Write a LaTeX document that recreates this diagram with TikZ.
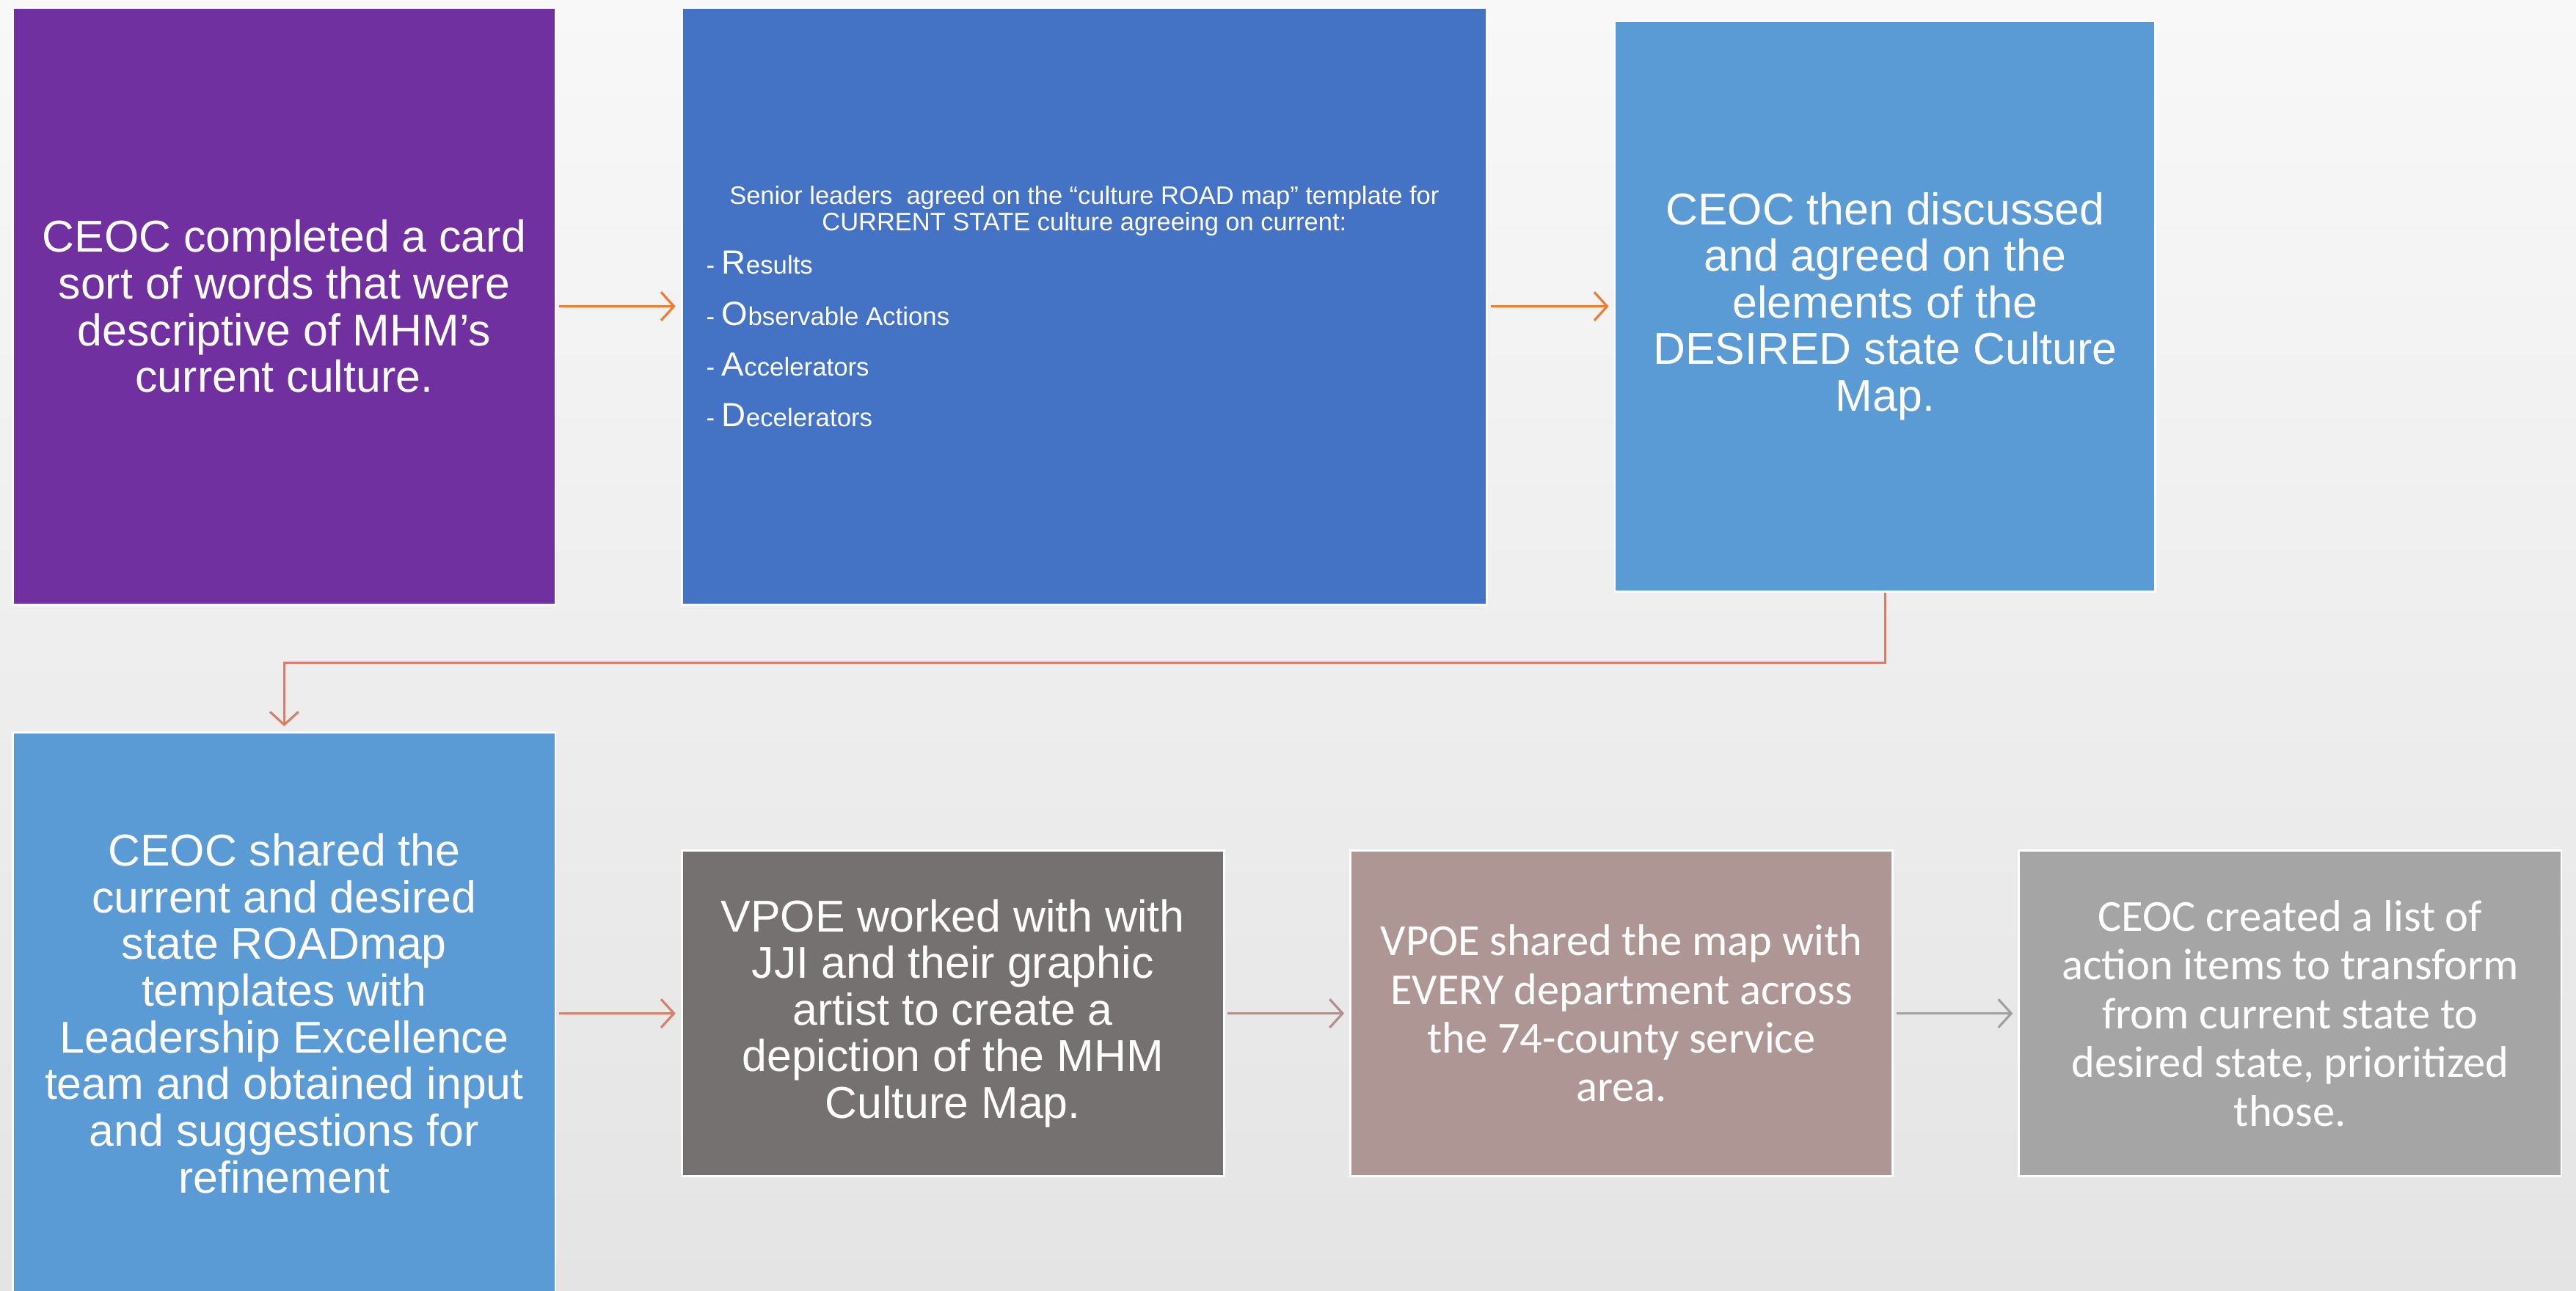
\documentclass[tikz,border=0pt]{standalone}
\usepackage{fontspec}
\setmainfont{Liberation Sans}
\newfontfamily\calfont{Carlito}
\usetikzlibrary{arrows.meta, positioning}
\definecolor{ceocpurple}{RGB}{112,48,160}
\definecolor{roadblue}{RGB}{68,114,196}
\definecolor{skyblue}{RGB}{91,155,213}
\definecolor{slategray}{RGB}{118,113,113}
\definecolor{rosegray}{RGB}{174,150,148}
\definecolor{stonegray}{RGB}{165,165,165}
\definecolor{arroworange}{RGB}{237,125,49}
\definecolor{arrowsalmon}{RGB}{214,128,106}
\definecolor{arrowrose}{RGB}{178,142,142}
\definecolor{arrowgray}{RGB}{160,160,160}
\definecolor{bgtop}{RGB}{248,248,248}
\definecolor{bgbottom}{RGB}{228,228,228}
\tikzset{
  stagebox/.style={draw=white, line width=0.8pt, text=white, inner sep=0pt, align=center, minimum width=7.389cm},
  bigtext/.style={font=\fontsize{17.3}{18.1}\selectfont},
  caltext/.style={font=\calfont\fontsize{17.2}{18.9}\selectfont},
  flow/.style={line width=0.9pt, shorten <=1pt, shorten >=2pt, -{Straight Barb[length=5pt,width=11pt]}},
}
\newcommand{\roadhead}{\fontsize{9.8}{10.4}\selectfont\lineskiplimit=-20pt}
\newcommand{\roaditem}[2]{\fontsize{9.9}{19.7}\selectfont - {\fontsize{13}{19.7}\selectfont #1}#2\par}

\begin{document}
\begin{tikzpicture}[x=0.02239cm, y=-0.02239cm]
  \useasboundingbox (0,0) rectangle (1568,786);
  \shade[top color=bgtop, bottom color=bgbottom] (0,0) rectangle (1568,786);

  % top row
  \node[stagebox, fill=ceocpurple, bigtext, minimum height=8.128cm] (sort) at (173,186.5)
    {CEOC completed a card\\sort of words that were\\descriptive of MHM’s\\current culture.};
  \node[stagebox, fill=roadblue, minimum width=10.971cm, minimum height=8.128cm, text width=10.3cm, align=none] (road) at (660,186.5) {%
    {\centering\roadhead Senior leaders\ \ agreed on the “culture ROAD map” template for\\CURRENT STATE culture agreeing on current:\par}
    \vspace{-2.9pt}\raggedright
    \roaditem{R}{esults}
    \roaditem{O}{bservable Actions}
    \roaditem{A}{ccelerators}
    \roaditem{D}{ecelerators}};
  \node[stagebox, fill=skyblue, bigtext, minimum width=7.366cm, minimum height=7.769cm] (desired) at (1147.5,186.5)
    {CEOC then discussed\\and agreed on the\\elements of the\\DESIRED state Culture\\Map.};

  % bottom row
  \node[stagebox, fill=skyblue, bigtext, minimum height=7.657cm] (shared) at (173,617)
    {CEOC shared the\\current and desired\\state ROADmap\\templates with\\Leadership Excellence\\team and obtained input\\and suggestions for\\refinement};
  \node[stagebox, fill=slategray, bigtext, minimum height=4.433cm] (worked) at (580,617)
    {VPOE worked with with\\JJI and their graphic\\artist to create a\\depiction of the MHM\\Culture Map.};
  \node[stagebox, fill=rosegray, caltext, minimum height=4.433cm] (spread) at (987,617)
    {VPOE shared the map with\\EVERY department across\\the 74-county service\\area.};
  \node[stagebox, fill=stonegray, caltext, minimum height=4.433cm] (actions) at (1394,617)
    {CEOC created a list of\\action items to transform\\from current state to\\desired state, prioritized\\those.};

  % connectors
  \draw[flow, arroworange] (sort) -- (road);
  \draw[flow, arroworange] (road) -- (desired);
  \draw[flow, arrowsalmon, shorten <=0pt] (desired.south) -- ++(0,43) -| (shared.north);
  \draw[flow, arrowsalmon] (shared) -- (worked);
  \draw[flow, arrowrose] (worked) -- (spread);
  \draw[flow, arrowgray] (spread) -- (actions);
\end{tikzpicture}
\end{document}
